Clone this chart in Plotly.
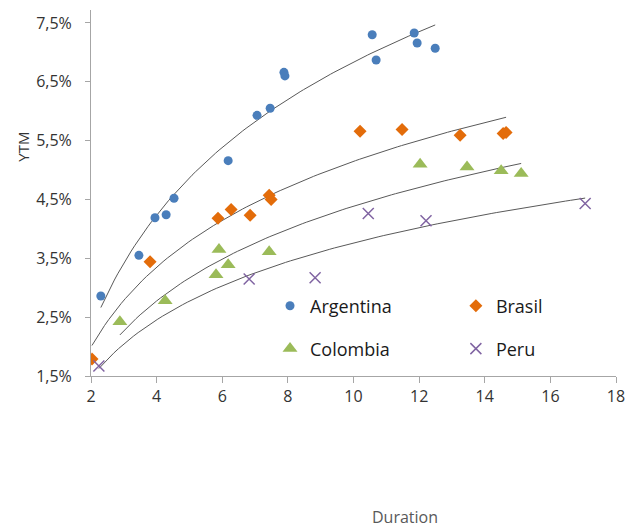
import numpy as np
import plotly.graph_objects as go

arg_x = [2.30, 3.46, 3.95, 4.29, 4.53, 6.18, 7.06, 7.46, 7.88, 7.91, 10.57, 10.69, 11.85, 11.94, 12.49]
arg_y = [2.86, 3.55, 4.19, 4.24, 4.52, 5.16, 5.93, 6.05, 6.66, 6.60, 7.30, 6.87, 7.33, 7.16, 7.07]

bra_x = [2.03, 3.80, 5.87, 6.27, 6.85, 7.43, 7.49, 10.20, 11.48, 13.25, 14.56, 14.65]
bra_y = [1.79, 3.44, 4.18, 4.33, 4.23, 4.57, 4.50, 5.66, 5.69, 5.59, 5.62, 5.64]

col_x = [2.88, 4.26, 5.81, 5.90, 6.18, 7.43, 12.03, 13.46, 14.50, 15.11]
col_y = [2.42, 2.78, 3.22, 3.65, 3.39, 3.61, 5.10, 5.05, 4.99, 4.94]

per_x = [2.24, 6.82, 8.83, 10.45, 12.21, 17.06]
per_y = [1.67, 3.15, 3.17, 4.26, 4.14, 4.43]

y_tickvals = [1.5, 2.5, 3.5, 4.5, 5.5, 6.5, 7.5]
y_ticktext = ["1,5%", "2,5%", "3,5%", "4,5%", "5,5%", "6,5%", "7,5%"]
x_tickvals = [2, 4, 6, 8, 10, 12, 14, 16, 18]

series = [
    ("Argentina", arg_x, arg_y, dict(symbol="circle", size=9, color="#4a7ebb"), "legend"),
    ("Brasil", bra_x, bra_y, dict(symbol="diamond", size=10, color="#e36c0a"), "legend2"),
    ("Colombia", col_x, col_y, dict(symbol="triangle-up", size=13, color="#9bbb59"), "legend3"),
    ("Peru", per_x, per_y, dict(symbol="x-thin", size=11, color="#8064a2",
                                line=dict(width=1.5, color="#8064a2")), "legend4"),
]

fig = go.Figure()

# logarithmic trendlines (Excel style)
for name, xs, ys, mk, lg in series:
    xa = np.array(xs)
    ya = np.array(ys)
    b, a = np.polyfit(np.log(xa), ya, 1)
    xx = np.linspace(xa.min(), xa.max(), 100)
    fig.add_trace(go.Scatter(x=xx, y=a + b * np.log(xx), mode="lines",
                             line=dict(color="#595959", width=1), showlegend=False,
                             hoverinfo="skip"))

for name, xs, ys, mk, lg in series:
    fig.add_trace(go.Scatter(x=xs, y=ys, mode="markers", name=name, marker=mk, legend=lg))

font_family = "'Open Sans', 'Noto Sans', sans-serif"
leg_common = dict(orientation="v", xanchor="left", yanchor="middle",
                  bgcolor="rgba(0,0,0,0)",
                  font=dict(family=font_family, size=18, color="#1a1a1a"))

L, R, T, B = 83, 33, 2, 159

fig.update_layout(
    width=641, height=527,
    margin=dict(l=L, r=R, t=T, b=B, autoexpand=False),
    paper_bgcolor="white", plot_bgcolor="white",
    font=dict(family=font_family, size=16, color="#333333"),
    hovermode=False,
    legend=dict(x=0.341, y=0.191, **leg_common),
    legend2=dict(x=0.695, y=0.191, **leg_common),
    legend3=dict(x=0.341, y=0.074, **leg_common),
    legend4=dict(x=0.695, y=0.074, **leg_common),
    xaxis=dict(range=[2, 18], tickvals=x_tickvals, showgrid=False, zeroline=False,
               showline=True, linecolor="#a6a6a6", linewidth=1,
               ticks="outside", ticklen=6, tickcolor="#a6a6a6", automargin=False,
               tickfont=dict(size=16, color="#333333")),
    yaxis=dict(range=[1.5, 7.72], tickvals=y_tickvals, ticktext=y_ticktext,
               showgrid=False, zeroline=False, showline=True, linecolor="#a6a6a6",
               linewidth=1, ticks="outside", ticklen=5, tickcolor="#a6a6a6",
               automargin=False, ticklabelstandoff=10,
               tickfont=dict(size=16, color="#333333")),
    annotations=[
        dict(text="YTM", xref="paper", yref="paper", x=-0.13, y=0.626, textangle=-90,
             showarrow=False, font=dict(size=15, color="#333333"), xanchor="center",
             yanchor="middle"),
        dict(text="Duration", xref="paper", yref="paper", x=0.599, y=-0.385,
             showarrow=False, font=dict(size=16, color="#595959"), xanchor="center",
             yanchor="middle"),
    ],
)

fig.write_html("out.html")
